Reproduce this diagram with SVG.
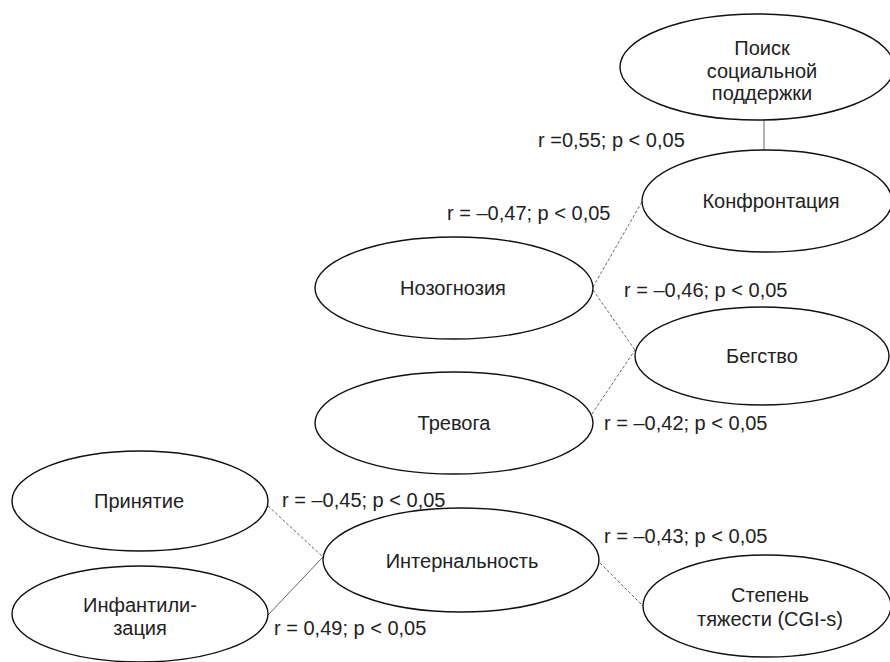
<svg xmlns="http://www.w3.org/2000/svg" width="890" height="662" viewBox="0 0 890 662">
<style>
.n{fill:#fff;stroke:#111;stroke-width:1.4}
.t{font-family:"Liberation Sans",Arial,sans-serif;font-size:20px;fill:#222;text-anchor:middle}
.l{font-family:"Liberation Sans",Arial,sans-serif;font-size:20px;fill:#222}
.c{stroke:#666;stroke-width:1;fill:none}
.d{stroke-dasharray:3 2}
</style>
<rect width="890" height="662" fill="#fff"/>
<g id="connectors">
<line class="c" x1="764" y1="120" x2="764" y2="152"/>
<line class="c d" x1="593" y1="287" x2="643" y2="200"/>
<line class="c d" x1="593" y1="290" x2="635" y2="350"/>
<line class="c d" x1="592" y1="414" x2="635" y2="350"/>
<line class="c d" x1="268" y1="506" x2="323" y2="557"/>
<line class="c" x1="268" y1="615" x2="323" y2="557"/>
<line class="c d" x1="600" y1="563" x2="643" y2="606"/>
</g>
<g id="labels">
<text class="l" x="538" y="147">r =0,55; p &lt; 0,05</text>
<text class="l" x="447" y="220">r = –0,47; p &lt; 0,05</text>
<text class="l" x="624" y="297">r = –0,46; p &lt; 0,05</text>
<text class="l" x="604" y="430">r = –0,42; p &lt; 0,05</text>
<text class="l" x="282" y="507">r = –0,45; p &lt; 0,05</text>
<text class="l" x="604" y="543">r = –0,43; p &lt; 0,05</text>
<text class="l" x="274" y="635">r = 0,49; p &lt; 0,05</text>
</g>
<g id="poisk"><ellipse class="n" cx="757" cy="67" rx="137" ry="53"/>
<text class="t" x="762" y="55">Поиск</text><text class="t" x="762" y="78">социальной</text><text class="t" x="762" y="100">поддержки</text></g>
<g id="konfrontaciya"><ellipse class="n" cx="767" cy="201" rx="125" ry="51"/>
<text class="t" x="771" y="208">Конфронтация</text></g>
<g id="nozognoziya"><ellipse class="n" cx="454" cy="288" rx="139" ry="51"/>
<text class="t" x="453" y="295">Нозогнозия</text></g>
<g id="begstvo"><ellipse class="n" cx="762" cy="356" rx="127" ry="49"/>
<text class="t" x="762" y="363">Бегство</text></g>
<g id="trevoga"><ellipse class="n" cx="454" cy="423" rx="139" ry="51"/>
<text class="t" x="454" y="430">Тревога</text></g>
<g id="prinyatie"><ellipse class="n" cx="140" cy="501" rx="128" ry="50"/>
<text class="t" x="139" y="508">Принятие</text></g>
<g id="internalnost"><ellipse class="n" cx="461" cy="560" rx="138" ry="52"/>
<text class="t" x="462" y="568">Интернальность</text></g>
<g id="infantilizaciya"><ellipse class="n" cx="140" cy="614" rx="128" ry="48"/>
<text class="t" x="140" y="612">Инфантили-</text><text class="t" x="140" y="635">зация</text></g>
<g id="stepen"><ellipse class="n" cx="767" cy="606" rx="124" ry="51"/>
<text class="t" x="770" y="602">Степень</text><text class="t" x="770" y="626">тяжести (CGI-s)</text></g>
</svg>
